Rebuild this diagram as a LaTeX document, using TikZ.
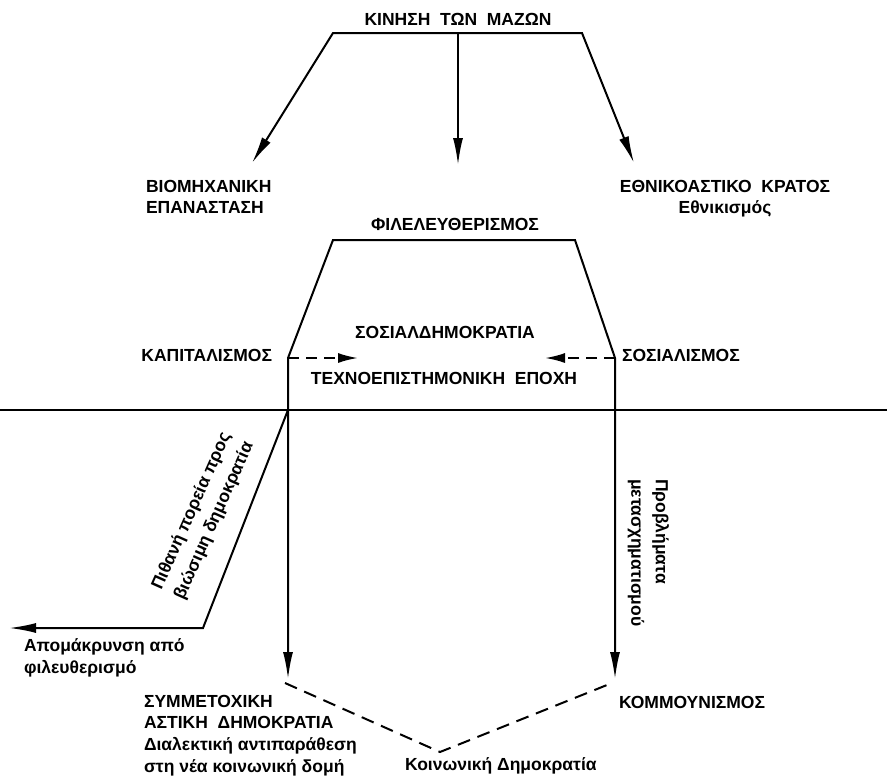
\documentclass[tikz,border=0pt]{standalone}
\usepackage{fontspec}
\setmainfont{Liberation Sans}
\usetikzlibrary{arrows.meta}
\begin{document}
\begin{tikzpicture}[x=1pt,y=-1pt,
  line width=2pt, line join=miter,
  txt/.style={inner sep=0pt, font=\fontsize{17.5}{21.7}\selectfont\bfseries},
  rtxt/.style={inner sep=0pt, font=\fontsize{17.5}{24.5}\selectfont\bfseries},
  tip/.style={-{Latex[length=27pt,width=10pt]}},
  tiptwo/.style={{Latex[length=27pt,width=10pt]}-{Latex[length=27pt,width=10pt]}},
  dtip/.style={-{Latex[length=20pt,width=10pt]}, dash pattern=on 11pt off 7pt},
  dline/.style={dash pattern=on 13pt off 8pt},
]
\useasboundingbox (0,0) rectangle (887,777);

% texts
\node[txt, anchor=base] (title) at (458,25) {ΚΙΝΗΣΗ\ \ ΤΩΝ\ \ ΜΑΖΩΝ};
\node[txt, anchor=north west, align=left] (biom) at (145,179) {ΒΙΟΜΗΧΑΝΙΚΗ\\ΕΠΑΝΑΣΤΑΣΗ};
\node[txt, anchor=north, align=center] (ethn) at (725,179) {ΕΘΝΙΚΟΑΣΤΙΚΟ\ \ ΚΡΑΤΟΣ\\Εθνικισμός};
\node[txt, anchor=base] (fil) at (455,230) {ΦΙΛΕΛΕΥΘΕΡΙΣΜΟΣ};
\node[txt, anchor=base] (sd) at (445,338) {ΣΟΣΙΑΛΔΗΜΟΚΡΑΤΙΑ};
\node[txt, anchor=base east] (kap) at (273,361) {ΚΑΠΙΤΑΛΙΣΜΟΣ};
\node[txt, anchor=base west] (sos) at (621,361) {ΣΟΣΙΑΛΙΣΜΟΣ};
\node[txt, anchor=base] (tech) at (444,384) {ΤΕΧΝΟΕΠΙΣΤΗΜΟΝΙΚΗ\ \ ΕΠΟΧΗ};
\node[rtxt, rotate=66, align=center] (pith) at (203,516) {Πιθανή πορεία προς\\βιώσιμη δημοκρατία};
\node[rtxt, rotate=-90, align=left, anchor=north west] (prob) at (670,478) {Προβλήματα\\μετασχηματισμού};
\node[txt, anchor=north west, align=left] (apo) at (23,638) {Απομάκρυνση από\\φιλευθερισμό};
\node[txt, anchor=north west, align=left] (sym) at (143,694) {ΣΥΜΜΕΤΟΧΙΚΗ\\ΑΣΤΙΚΗ\ \ ΔΗΜΟΚΡΑΤΙΑ\\Διαλεκτική αντιπαράθεση\\στη νέα κοινωνική δομή};
\node[txt, anchor=base west] (kom) at (618,708) {ΚΟΜΜΟΥΝΙΣΜΟΣ};
\node[txt, anchor=base west] (koin) at (404,770) {Κοινωνική Δημοκρατία};

% coordinates
\coordinate (barL) at (333,33);
\coordinate (barM) at (458,33);
\coordinate (barR) at (582,33);
\coordinate (tipL) at (252,163);
\coordinate (tipM) at (458,165);
\coordinate (tipR) at (634,163);
\coordinate (trL) at (333,240);
\coordinate (trR) at (575,240);
\coordinate (kL) at (288,358);
\coordinate (sR) at (615,358);
\coordinate (botL) at (288,679);
\coordinate (botR) at (615,679);
\coordinate (dL) at (358,358);
\coordinate (dR) at (545,358);
\coordinate (hL) at (0,410);
\coordinate (hR) at (887,410);
\coordinate (jL) at (288,410);
\coordinate (bend) at (203,628);
\coordinate (apoTip) at (9,628);
\coordinate (vL) at (285,683);
\coordinate (vM) at (440,752);
\coordinate (vR) at (612,683);

% connectors
\draw[tiptwo] (tipL) -- (barL) -- (barR) -- (tipR);
\draw[tip] (barM) -- (tipM);
\draw[tiptwo] (botL) -- (kL) -- (trL) -- (trR) -- (sR) -- (botR);
\draw[dtip] (kL) -- (dL);
\draw[dtip] (sR) -- (dR);
\draw (hL) -- (hR);
\draw[-{Latex[length=27pt,width=10pt]}] (jL) -- (bend) -- (apoTip);
\draw[dline] (vL) -- (vM) -- (vR);
\end{tikzpicture}
\end{document}
